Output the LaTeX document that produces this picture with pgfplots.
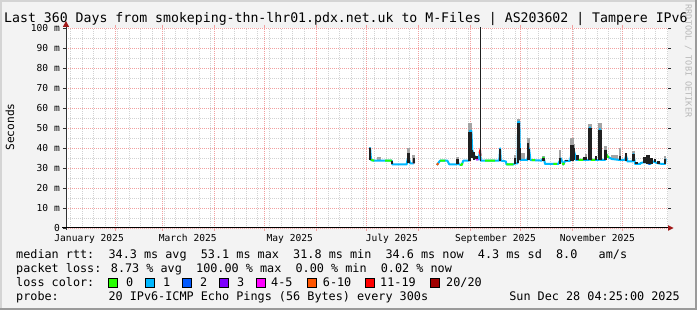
\documentclass[border=0pt]{standalone}
\usepackage{pgfplots}
\usepackage{pgfplotstable}
\pgfplotsset{compat=1.18}
\usepackage{fontspec}
\setmainfont{DejaVu Sans Mono}
\definecolor{bgc}{HTML}{F3F3F3}
\definecolor{shadea}{HTML}{D4D4D4}
\definecolor{shadeb}{HTML}{9A9A9A}
\definecolor{mgrid}{HTML}{F2A0A0}
\definecolor{mingrid}{HTML}{D2D2D2}
\definecolor{axisc}{HTML}{303030}
\definecolor{arrowc}{HTML}{A01818}
\definecolor{loss0}{HTML}{26FF00}
\definecolor{loss1}{HTML}{00B8FF}
\definecolor{loss2}{HTML}{0059FF}
\definecolor{loss3}{HTML}{7E00FF}
\definecolor{loss5}{HTML}{FF00FF}
\definecolor{loss10}{HTML}{FF5500}
\definecolor{loss19}{HTML}{FF0000}
\definecolor{loss20}{HTML}{A00000}
\definecolor{smoke}{HTML}{202020}
\definecolor{smokeg}{HTML}{A4A4A4}
\definecolor{credit}{HTML}{B8B8B8}

% median rtt (ms) vs day of 2025 (Jan 1 = 0)
\pgfplotstableread{
d m
183.0 40.3
183.6 34.0
185.0 33.7
196.0 33.7
196.3 31.8
204.9 31.8
205.5 34.5
206.5 34.0
206.9 32.3
208.9 32.3
209.5 33.2
nan nan
223.0 31.5
224.9 33.7
229.2 33.7
230.4 31.8
234.9 31.8
235.5 33.0
236.2 31.8
237.8 31.5
238.8 33.7
242.3 33.7
242.8 48.6
243.6 48.6
244.1 39.0
244.8 37.0
245.8 35.7
246.8 34.3
247.8 34.3
248.8 38.5
249.2 33.7
260.3 33.7
260.8 39.8
261.2 33.7
264.2 33.3
264.6 31.8
268.7 31.8
269.7 32.3
271.2 32.3
271.6 53.1
272.3 53.1
272.7 34.0
277.1 34.0
278.1 39.8
278.9 34.0
285.7 33.7
286.7 35.2
287.7 32.0
295.6 32.0
297.1 34.8
298.0 33.0
298.6 31.8
299.6 33.5
302.6 33.5
304.2 40.7
305.6 36.5
306.2 34.0
314.0 34.0
314.5 50.3
314.9 34.0
320.0 34.0
320.5 49.5
320.9 34.0
323.6 34.0
324.2 37.0
325.0 35.7
327.6 34.5
332.5 34.0
335.5 34.0
336.1 36.2
336.9 33.3
340.1 33.3
340.5 37.0
341.5 32.0
344.5 32.0
344.9 32.5
347.5 33.0
350.5 32.0
352.4 33.3
354.5 32.5
357.5 32.0
359.4 32.0
359.8 34.6
}\median

% parts of the median with no loss
\pgfplotstableread{
d m
183.6 34.0
185.5 33.7
nan nan
192.0 33.7
196.0 33.7
nan nan
224.9 33.7
227.9 33.7
nan nan
237.0 31.65
237.8 31.5
238.2 32.4
nan nan
251.8 33.7
257.8 33.7
nan nan
264.6 31.8
268.7 31.8
nan nan
279.7 34.0
281.7 33.95
nan nan
286.2 34.45
286.7 35.2
287.2 33.6
nan nan
292.6 32.0
294.7 32.0
nan nan
298.2 32.6
298.6 31.8
299.0 32.5
nan nan
307.6 34.0
310.6 34.0
nan nan
315.2 34.0
317.6 34.0
nan nan
324.0 36.0
324.2 37.0
325.0 35.7
325.8 35.3
}\lossz

% smoke: day, low, black top, grey top (ms)
\pgfplotstableread{
d lo hi gh
183.1 34.0 39.8 40.3
188.0 33.7 33.7 35.3
188.6 33.7 33.7 35.3
196.2 31.8 33.7 33.7
205.6 32.3 37.3 39.8
206.2 32.3 37.3 39.8
208.9 32.3 32.3 36.5
209.4 32.5 35.0 35.0
235.0 31.8 34.3 35.5
235.6 31.8 34.3 35.5
242.6 33.7 48.0 52.3
243.3 39.0 48.0 52.3
244.1 35.0 39.0 39.0
245.3 34.0 38.2 38.2
246.6 34.3 36.0 36.0
260.6 33.7 39.3 39.8
269.7 32.0 35.2 36.5
271.4 32.3 52.5 54.5
272.1 34.0 52.5 54.5
272.6 34.0 40.0 40.0
273.7 34.0 34.0 37.7
274.7 34.0 34.0 37.3
277.5 34.0 42.3 44.8
278.1 34.0 39.5 44.8
286.7 33.7 35.0 36.2
296.5 32.0 35.2 39.0
300.6 33.5 34.2 34.2
303.4 33.5 41.5 44.8
304.0 33.5 41.5 44.8
304.6 34.0 40.0 42.0
307.0 34.0 36.5 36.5
311.0 34.0 35.7 35.7
312.0 34.0 35.7 37.0
314.3 34.0 49.8 51.8
314.8 34.0 49.8 51.8
318.2 34.0 36.0 36.0
320.3 34.0 49.0 52.3
320.8 34.0 49.0 52.3
323.8 34.0 39.0 41.0
327.6 34.5 34.5 36.5
329.0 34.5 34.5 36.5
330.5 34.5 34.5 36.5
332.5 34.0 36.0 39.8
336.1 33.3 37.3 37.3
340.5 33.3 37.0 38.5
342.3 32.0 33.2 33.2
346.7 32.5 35.7 35.7
347.3 32.5 35.7 35.7
349.0 32.0 36.5 36.5
349.6 32.0 36.5 36.5
351.4 32.0 35.0 35.0
353.4 33.0 34.5 34.5
355.4 32.0 33.5 33.5
359.4 32.0 34.6 36.0
}\smoke

\begin{document}
\begin{tikzpicture}
\begin{scope}[x=1pt,y=1pt]
\useasboundingbox (0,0) rectangle (697,310);
\fill[bgc] (0,0) rectangle (697,310);
\fill[shadea] (0,0) rectangle (2,310);
\fill[shadea] (0,308) rectangle (697,310);
\fill[shadeb] (695,0) rectangle (697,310);
\fill[shadeb] (0,0) rectangle (697,2);
\end{scope}

\begin{axis}[
  at={(66pt,82pt)}, anchor=south west,
  scale only axis, width=602pt, height=200pt,
  xmin=1.18, xmax=361.18, ymin=0, ymax=100,
  axis line style={draw=none},
  axis background/.style={fill=white},
  xtick={31,59,90,120,151,181,212,243,273,304,334},
  xticklabels={},
  minor xtick={3.86,10.86,...,360.86},
  ytick={0,10,...,100},
  yticklabels={0,10 m,20 m,30 m,40 m,50 m,60 m,70 m,80 m,90 m,100 m},
  minor ytick={5,15,...,95},
  grid=both,
  major grid style={mgrid, dash pattern=on 1pt off 1pt, line width=0.9pt},
  minor grid style={mingrid, dash pattern=on 1pt off 1pt, line width=0.9pt},
  tick align=outside,
  major tick length=3pt,
  minor tick length=0pt,
  xtick style={draw=mgrid, line width=0.9pt},
  ytick style={draw=axisc, line width=0.8pt},
  tick label style={font=\fontsize{9.6}{10}\selectfont},
  yticklabel style={anchor=east, inner sep=0pt, xshift=-3pt},
  extra x ticks={15,74,135,196,258,319},
  extra x tick labels={January 2025,March 2025,May 2025,July 2025,September 2025,November 2025},
  extra x tick style={grid=none, major tick length=0pt, tick style={draw=none},
     xticklabel style={anchor=base, inner sep=0pt, yshift=-13.5pt}},
  unbounded coords=jump,
]
% grey smoke
\addplot[draw=none, mark=none, forget plot,
  error bars/.cd, y dir=plus, y explicit, error mark=none,
  error bar style={draw=smokeg, line width=2.5pt}]
  table[x=d, y=lo, y error plus expr=\thisrow{gh}-\thisrow{lo}]{\smoke};
% median line, 1 loss colour
\addplot[loss1, line width=2pt, line join=round] table[x=d, y=m]{\median};
% no loss
\addplot[loss0, line width=2pt, line join=round] table[x=d, y=m]{\lossz};
% other loss colours
\addplot[loss2, line width=2pt] coordinates {(347.5,33.0) (349.0,32.5) (350.5,32.0)};
\addplot[loss5, line width=2pt] coordinates {(246.5,34.4) (246.8,34.3) (247.8,34.3)};
\addplot[loss10, line width=2pt] coordinates {(223.0,31.5) (223.8,32.4)};
\addplot[loss19, line width=2pt] coordinates {(208.9,32.4) (209.5,33.2)};
\addplot[loss19, line width=2pt] coordinates {(248.5,37.6) (248.8,38.5) (249.0,36.0)};
% dark smoke
\addplot[draw=none, mark=none, forget plot,
  error bars/.cd, y dir=plus, y explicit, error mark=none,
  error bar style={draw=smoke, line width=2.5pt}]
  table[x=d, y=lo, y error plus expr=\thisrow{hi}-\thisrow{lo}]{\smoke};
\addplot[smoke, line width=1pt] coordinates {(248.8,33.7) (248.8,105)};
\end{axis}

\begin{scope}[x=1pt,y=1pt]
% axes and arrows
\draw[axisc, line width=1pt] (66,80) -- (66,284);
\fill[arrowc] (62.8,283) -- (69.2,283) -- (66,289) -- cycle;
\draw[black, line width=1pt] (62,82) -- (668,82);
\fill[arrowc] (668,79.2) -- (668,84.8) -- (673.5,82) -- cycle;

% title
\node[anchor=base west, inner sep=0pt] at (4,287.5)
  {\fontsize{13.2}{14}\selectfont Last 360 Days from smokeping-thn-lhr01.pdx.net.uk to M-Files | AS203602 | Tampere IPv6};
\node[rotate=90, inner sep=0pt] at (10,183) {\fontsize{11.2}{12}\selectfont Seconds};
\node[rotate=-90, inner sep=0pt, text=credit] at (688.5,249) {\fontsize{8.5}{9}\selectfont RRDTOOL / TOBI OETIKER};

% legend
\begin{scope}[every node/.style={anchor=base west, inner sep=0pt, font=\fontsize{11.8}{12}\selectfont}]
\node at (16,51) {median rtt:~~34.3 ms avg~~53.1 ms max~~31.8 ms min~~34.6 ms now~~4.3 ms sd~~8.0~~~am/s};
\node at (16,37) {packet loss: 8.73 \% avg~~100.00 \% max~~0.00 \% min~~0.02 \% now};
\node at (16,23) {loss color:};
\node at (16,9) {probe:};
\node at (108.3,9) {20 IPv6-ICMP Echo Pings (56 Bytes) every 300s};
\node[anchor=base east] at (680,9) {Sun Dec 28 04:25:00 2025};
\node at (125.8,23) {0};
\node at (163,23) {1};
\node at (200,23) {2};
\node at (237,23) {3};
\node at (271,23) {4-5};
\node at (322.7,23) {6-10};
\node at (380,23) {11-19};
\node at (446,23) {20/20};
\end{scope}
\begin{scope}[draw=black, line width=0.7pt]
\filldraw[fill=loss0] (108,22.5) rectangle (117,31.5);
\filldraw[fill=loss1] (145.3,22.5) rectangle (154.3,31.5);
\filldraw[fill=loss2] (182,22.5) rectangle (191,31.5);
\filldraw[fill=loss3] (219.6,22.5) rectangle (228.6,31.5);
\filldraw[fill=loss5] (256.4,22.5) rectangle (265.4,31.5);
\filldraw[fill=loss10] (307.6,22.5) rectangle (316.6,31.5);
\filldraw[fill=loss19] (365.3,22.5) rectangle (374.3,31.5);
\filldraw[fill=loss20] (430,22.5) rectangle (439,31.5);
\end{scope}
\end{scope}
\end{tikzpicture}
\end{document}
